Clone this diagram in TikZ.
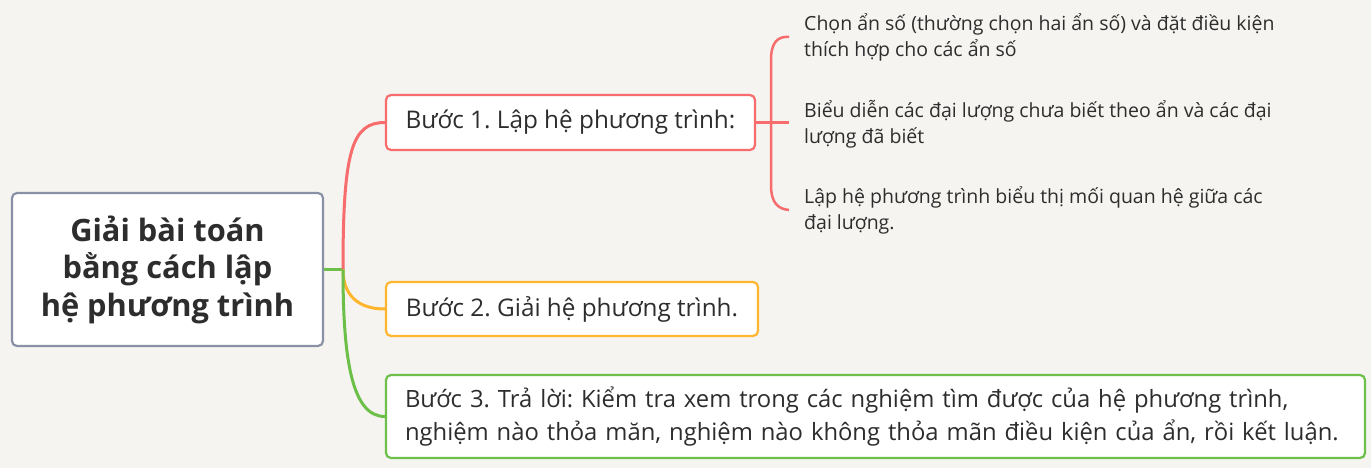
\documentclass[tikz,border=0pt]{standalone}
\usepackage{fontspec}
\setmainfont{Open Sans}
\frenchspacing
\definecolor{bgc}{RGB}{245,244,240}
\definecolor{txt}{RGB}{45,45,45}
\definecolor{rootc}{RGB}{138,145,166}
\definecolor{redc}{RGB}{247,108,108}
\definecolor{orc}{RGB}{255,182,46}
\definecolor{grc}{RGB}{108,192,74}
\tikzset{
  box/.style={draw, line width=2.2pt, rounded corners=5pt, fill=white, text=txt, inner sep=0pt},
  leaf/.style={anchor=west, inner sep=0pt, text=txt, align=left, font=\fontsize{19.5}{26}\selectfont},
  link/.style={line width=3pt}
}
\begin{document}
\begin{tikzpicture}[x=1pt,y=-1pt]
\fill[bgc] (0,0) rectangle (1371,468);
\useasboundingbox (0,0) rectangle (1371,468);
\node[box, draw=rootc, minimum width=311pt, minimum height=153pt, align=center,
  font=\fontsize{30.8}{37.5}\selectfont\bfseries] (root) at (167.5,269.5)
  {Giải bài toán\\bằng cách lập\\hệ phương trình};
\node[box, draw=redc, minimum width=369pt, minimum height=55pt,
  font=\fontsize{24.3}{28}\selectfont] (s1) at (570.5,122.5) {Bước 1. Lập hệ phương trình:};
\node[box, draw=orc, minimum width=372pt, minimum height=54pt,
  font=\fontsize{24.3}{28}\selectfont] (s2) at (572,309) {Bước 2. Giải hệ phương trình.};
\node[box, draw=grc, minimum height=83pt, inner xsep=19pt, text width=941pt, align=left,
  font=\fontsize{23.8}{33}\selectfont] (s3) at (875.5,416.5)
  {\mbox{Bước 3. Trả lời: Kiểm tra xem trong các nghiệm tìm được của hệ phương trình,}\\\mbox{nghiệm nào thỏa măn, nghiệm nào không thỏa mãn điều kiện của ẩn, rồi kết luận.}};
\node[leaf] (c1) at (804,37) {Chọn ẩn số (thường chọn hai ẩn số) và đặt điều kiện\\thích hợp cho các ẩn số};
\node[leaf] (c2) at (804,124) {Biểu diễn các đại lượng chưa biết theo ẩn và các đại\\lượng đã biết};
\node[leaf] (c3) at (804,210) {Lập hệ phương trình biểu thị mối quan hệ giữa các\\đại lượng.};
\coordinate (hub) at (343,269.5);
\coordinate (j) at (771,122.5);
\draw[link, grc] (root.east) -- (hub);
\draw[link, redc] (hub) .. controls (343,150) and (352,122.5) .. (s1.west);
\draw[link, orc] (hub) .. controls (343,295) and (358,309) .. (s2.west);
\draw[link, grc] (hub) .. controls (343,360) and (352,416.5) .. (s3.west);
\draw[link, redc, line width=2.5pt] (s1.east) -- ([xshift=-15pt]c2.west|-s1.east);
\draw[link, redc, line width=2.5pt] (j) -- (771,60) .. controls (771,42) and (778,36) .. ([xshift=-15pt]c1.west);
\draw[link, redc, line width=2.5pt] (j) -- (771,185) .. controls (771,203) and (778,209) .. ([xshift=-15pt]c3.west);
\end{tikzpicture}
\end{document}
